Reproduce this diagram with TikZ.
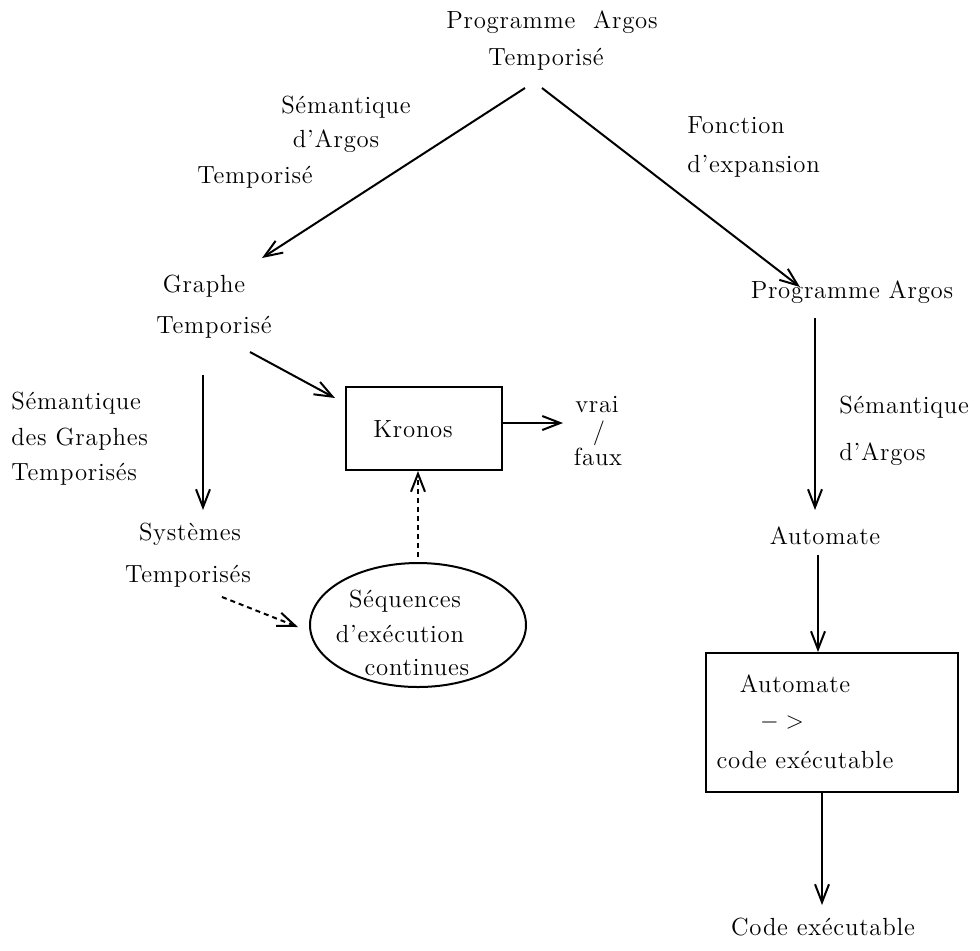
\documentclass[tikz,border=0pt]{standalone}
\usepackage{fontspec}
\setmainfont{lmroman12-regular.otf}[LetterSpace=3]
\usetikzlibrary{arrows.meta,shapes.geometric}
\begin{document}
\begin{tikzpicture}[x=0.5pt,y=-0.5pt,
  every node/.style={font=\fontsize{12.4}{15}\selectfont, inner sep=0pt},
  lbl/.style={anchor=base},
  lbll/.style={anchor=base west},
  arr/.style={line width=1pt,-{Straight Barb[length=9pt,width=7pt]}},
  dotarr/.style={arr, dash pattern=on 2.5pt off 2pt},
  boxstyle/.style={draw, line width=1pt, rectangle},
  ovalstyle/.style={draw, line width=1pt, ellipse}]
\useasboundingbox (0,0) rectangle (980,950);
% top
\node[lbl] (top1) at (552,28) {Programme~~Argos};
\node[lbl] (top2) at (546,65) {Temporisé};
\node[lbl] (sa1) at (346,113) {Sémantique};
\node[lbl] (sa2) at (336,147) {d'Argos};
\node[lbl] (sa3) at (255,183) {Temporisé};
\node[lbll] (fe1) at (687,133) {Fonction};
\node[lbll] (fe2) at (687,172) {d'expansion};
\node[lbl] (g1) at (204,292) {Graphe};
\node[lbl] (g2) at (214,333) {Temporisé};
\node[lbl] (pa) at (852,298) {Programme Argos};
\node[lbll] (sg1) at (11,409) {Sémantique};
\node[lbll] (sg2) at (11,445) {des Graphes};
\node[lbll] (sg3) at (11,480) {Temporisés};
% Kronos
\node[boxstyle, minimum width=78pt, minimum height=41.5pt] (kronos) at (424,428.5) {};
\node[lbl] (kt) at (413,437) {Kronos};
\node[lbl] (vf1) at (597,412) {vrai};
\node[lbl] (vf2) at (599,439) {/};
\node[lbl] (vf3) at (598,465) {faux};
\node[lbl] (st1) at (190,540) {Systèmes};
\node[lbl] (st2) at (188,582) {Temporisés};
% ellipse
\node[ovalstyle, minimum width=108pt, minimum height=62pt] (seq) at (418,625) {};
\node[lbl] (sq1) at (405,607) {Séquences};
\node[lbl] (sq2) at (400,642) {d'exécution};
\node[lbl] (sq3) at (417,675) {continues};
% right column
\node[lbll] (sd1) at (839,413) {Sémantique};
\node[lbll] (sd2) at (839,460) {d'Argos};
\node[lbl] (au) at (825,544) {Automate};
\node[boxstyle, minimum width=126pt, minimum height=69.5pt] (comp) at (832,722.5) {};
\node[lbl] (c1) at (795,692) {Automate};
\node[lbl] (c2) at (782,728) {$->$};
\node[lbl] (c3) at (805,768) {code exécutable};
\node[lbl] (code) at (823,935) {Code exécutable};
% connector end points
\coordinate (t1s) at (525,88);
\coordinate (g1n) at (262,258);
\coordinate (t2s) at (542,88);
\coordinate (pan) at (800,287);
\coordinate (g2s) at (250,352);
\coordinate (kw) at (335,398);
\coordinate (gs) at (203,375);
\coordinate (stn) at (203,510);
\coordinate (vfw) at (563,423);
\coordinate (seqn) at (418,557);
\coordinate (sts) at (222,597);
\coordinate (seqw) at (298,627);
\coordinate (pas) at (815,318);
\coordinate (aun) at (815,510);
\coordinate (aus) at (818,555);
\coordinate (coden) at (822,905);
% connectors
\draw[arr] (t1s) -- (g1n);
\draw[arr] (t2s) -- (pan);
\draw[arr] (g2s) -- (kw);
\draw[arr] (gs) -- (stn);
\draw[arr] (kronos.east |- vfw) -- (vfw);
\draw[dotarr] (seqn) -- (seqn |- kronos.south);
\draw[dotarr] (sts) -- (seqw);
\draw[arr] (pas) -- (aun);
\draw[arr] (aus) -- (aus |- comp.north);
\draw[arr] (comp.south -| coden) -- (coden);
\end{tikzpicture}
\end{document}
